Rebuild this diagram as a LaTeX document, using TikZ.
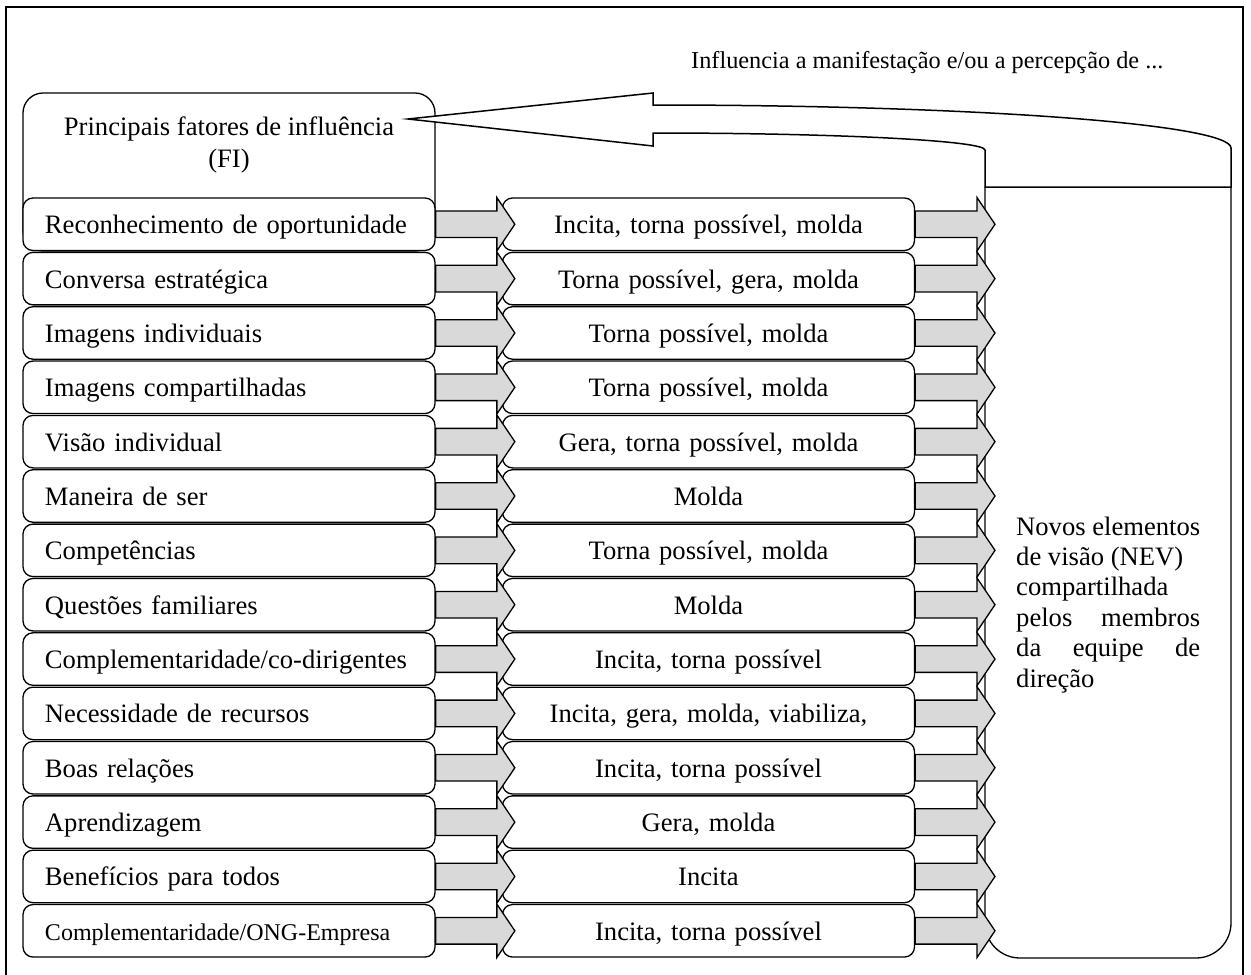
\documentclass[tikz,border=0pt]{standalone}
\usepackage{fontspec}
\setmainfont{Liberation Serif}
\usetikzlibrary{calc}

\newcommand{\fsrow}{\fontsize{26.6pt}{30.6pt}\selectfont}
\newcommand{\fssmall}{\fontsize{24pt}{28pt}\selectfont}

% block arrow from a node edge to a target edge; #3 = how far the tip overlaps the target
\newcommand{\flowarrow}[3]{%
  \path[flowarr] let \p1=(#1), \p2=(#2) in
    (\x1,\y1+13.3pt) -- (\x2+#3-18pt,\y1+13.3pt) -- (\x2+#3-18pt,\y1+26.7pt)
    -- (\x2+#3,\y1) -- (\x2+#3-18pt,\y1-26.7pt) -- (\x2+#3-18pt,\y1-13.3pt)
    -- (\x1,\y1-13.3pt) -- cycle;}

\tikzset{
  boxline/.style={draw=black, line width=1.3pt},
  lbox/.style={boxline, fill=white, rounded corners=10pt, minimum width=412pt,
    minimum height=52.5pt, text width=368pt, inner xsep=22pt, inner ysep=0pt,
    align=left, text height=19pt, text depth=0pt, font=\fsrow},
  mbox/.style={lbox, align=center},
  flowarr/.style={draw=black, line width=1.3pt, fill=arrowgray, line join=miter},
  bigarrow/.style={draw=black, line width=1.5pt, fill=white, line join=miter},
}
\definecolor{arrowgray}{HTML}{D9D9D9}

\begin{document}
\begin{tikzpicture}[x=1pt,y=-1pt]
\useasboundingbox (0,0) rectangle (1251,975);
\clip (0,0) rectangle (1251,975);

% outer frame
\draw[line width=1.7pt] (6,7) rectangle (1243,1000);

% caption of the feedback arrow
\node[anchor=base west, inner sep=0pt, font=\fontsize{24.3pt}{28pt}\selectfont] (caption)
  at (691,68) {Influencia a manifestação e/ou a percepção de ...};

% header of the factor column
\node[boxline, fill=white, rounded corners=20pt, minimum width=412pt, minimum height=158pt,
  inner sep=0pt] (fi) at (229,172) {};
\node[anchor=base, inner sep=0pt, font=\fsrow] (fititle) at (229,135)
  {\vtop{\baselineskip=32pt\hbox to 412pt{\hss Principais fatores de influência\hss}\hbox to 412pt{\hss(FI)\hss}}};

% NEV box
\draw[boxline, fill=white, rounded corners=35pt] (985,187) -- (985,958) -- (1231,958) -- (1231,187);
\coordinate (nevedge) at (985,600);
\node[anchor=base west, inner sep=0pt, font=\fsrow] (nev) at (1016,535)
  {\vtop{\baselineskip=30.4pt
    \hbox{Novos elementos}
    \hbox{de visão (NEV)}
    \hbox{compartilhada}
    \hbox to 184pt{pelos\hfill membros}
    \hbox to 184pt{da\hfill equipe\hfill de}
    \hbox{direção}}};

% feedback arrow from the NEV box back to the factors
\coordinate (fitip) at (408,119);
\draw[bigarrow] (fitip) -- (653,93) -- (653,105)
  .. controls (972,105) and (1231,124) .. (1231,148) -- (1231,187) -- (985,187) -- (985,150)
  .. controls (985,140.6) and (836,133) .. (653,133) -- (653,146) -- cycle;

% factor rows and their effects
\foreach \i/\f/\l/\m in {
  1/\fsrow/{Reconhecimento de oportunidade}/{Incita, torna possível, molda},
  2/\fsrow/{Conversa estratégica}/{Torna possível, gera, molda},
  3/\fsrow/{Imagens individuais}/{Torna possível, molda},
  4/\fsrow/{Imagens compartilhadas}/{Torna possível, molda},
  5/\fsrow/{Visão individual}/{Gera, torna possível, molda},
  6/\fsrow/{Maneira de ser}/{Molda},
  7/\fsrow/{Competências}/{Torna possível, molda},
  8/\fsrow/{Questões familiares}/{Molda},
  9/\fsrow/{Complementaridade/co-dirigentes}/{Incita, torna possível},
  10/\fsrow/{Necessidade de recursos}/{Incita, gera, molda, viabiliza,},
  11/\fsrow/{Boas relações}/{Incita, torna possível},
  12/\fsrow/{Aprendizagem}/{Gera, molda},
  13/\fsrow/{Benefícios para todos}/{Incita},
  14/\fssmall/{Complementaridade/ONG-Empresa}/{Incita, torna possível}}{
  \pgfmathsetmacro{\cy}{224.25+54.35*(\i-1)}
  \node[lbox] (L\i) at (229,\cy) {\f\l};
  \node[mbox] (M\i) at (708.5,\cy) {\m};
}

% block arrows between the columns
\foreach \i in {1,...,14}{
  \flowarrow{L\i.east}{M\i.west}{13pt}
  \flowarrow{M\i.east}{nevedge}{10pt}
}
\end{tikzpicture}
\end{document}
